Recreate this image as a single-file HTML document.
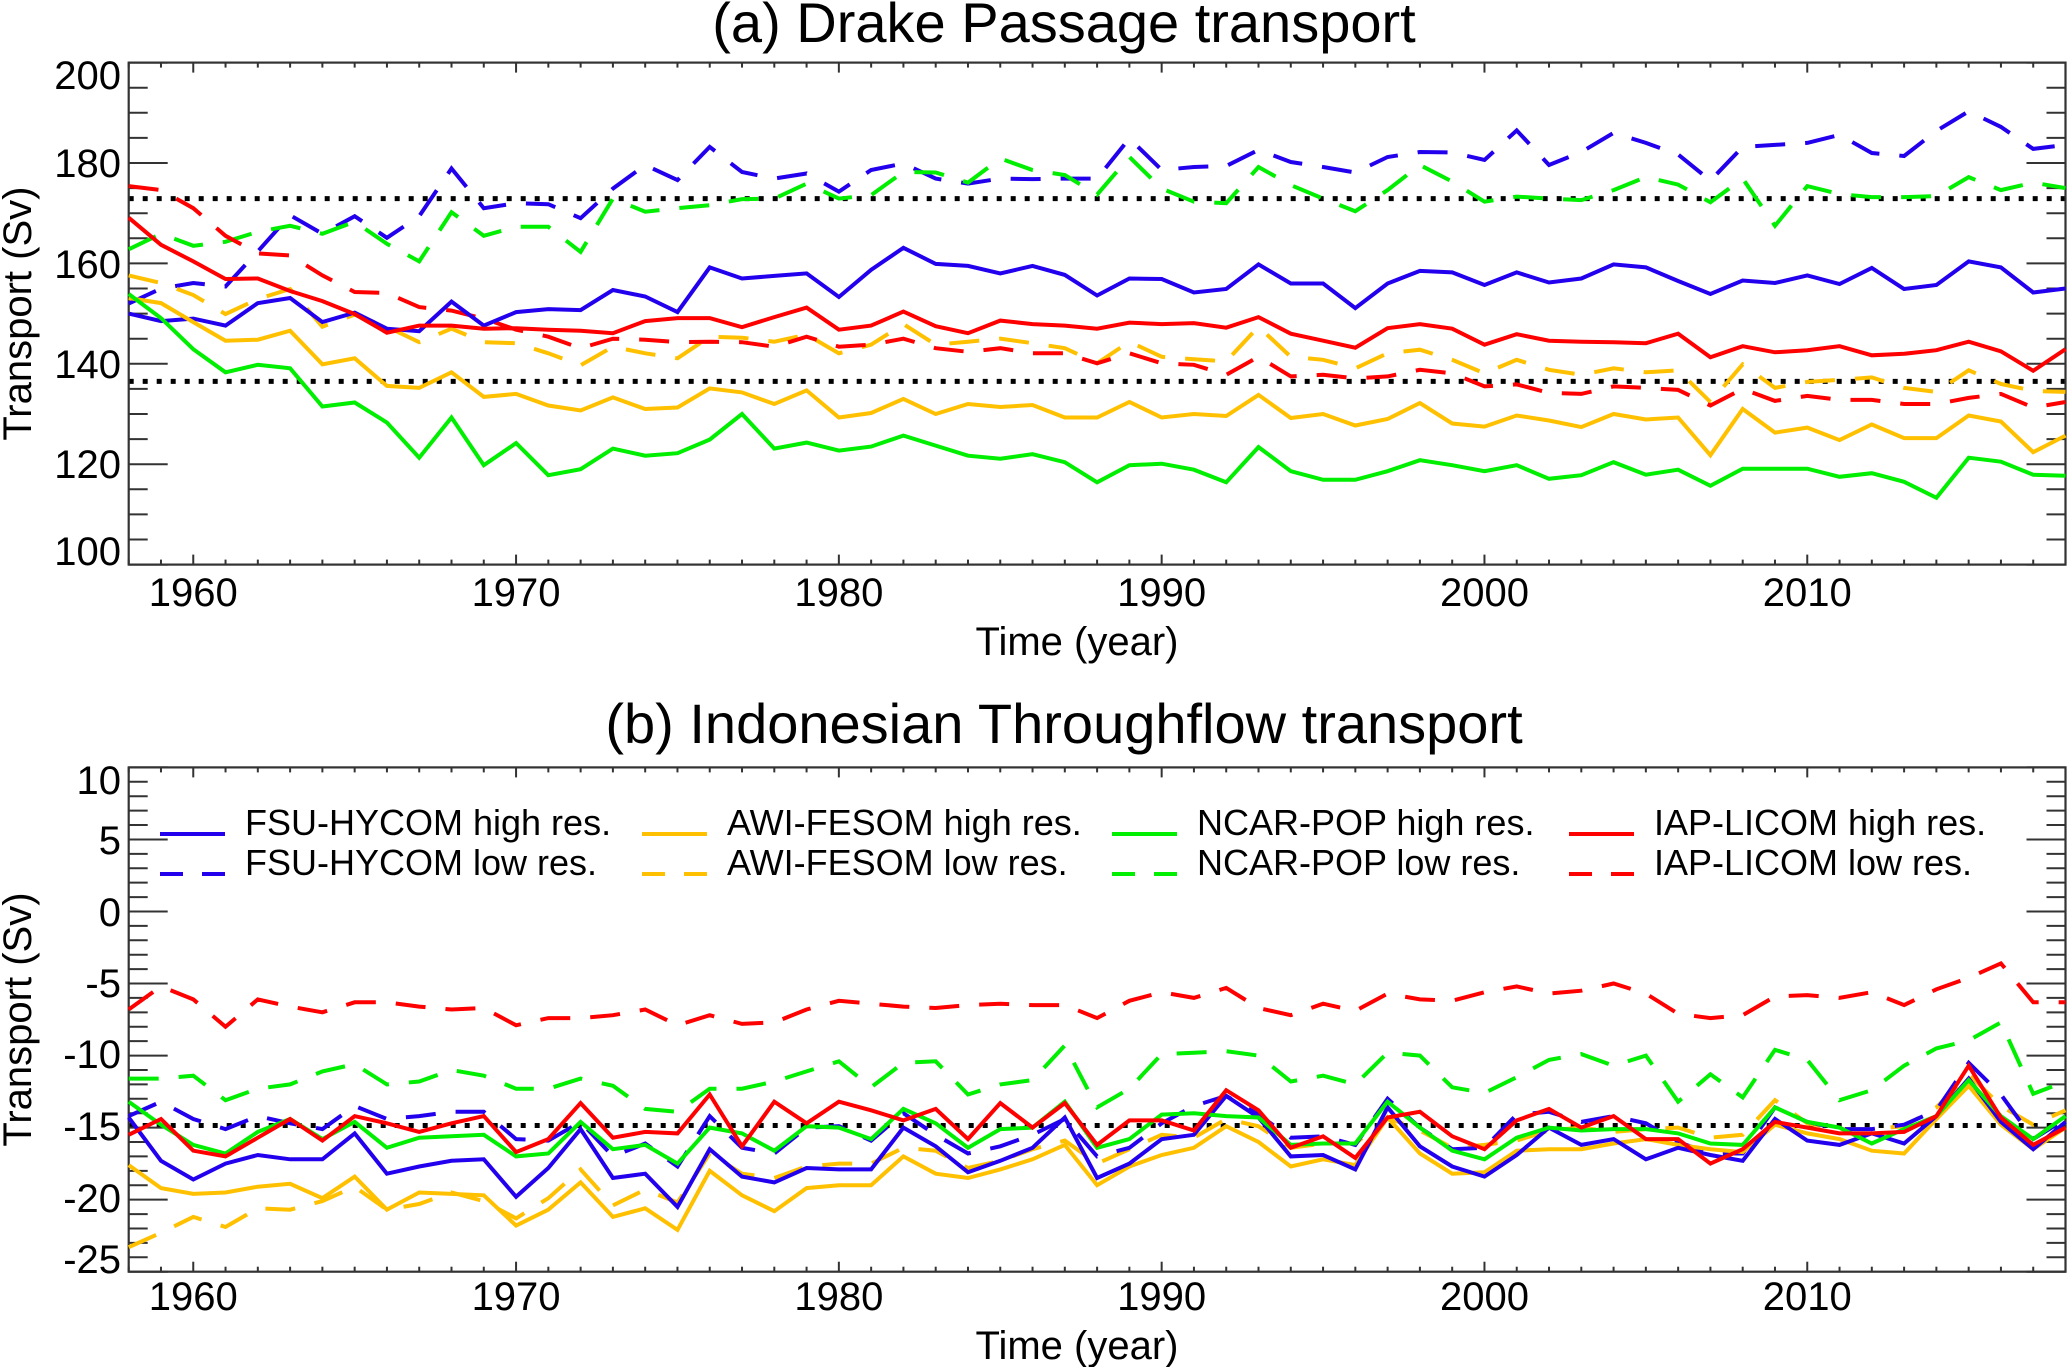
<!DOCTYPE html>
<html><head><meta charset="utf-8"><title>Drake Passage and Indonesian Throughflow transport</title>
<style>
html,body{margin:0;padding:0;background:#fff;}
svg{display:block;font-family:"Liberation Sans",Arial,sans-serif;}
</style></head>
<body>
<svg id="chart" width="2067" height="1367" viewBox="0 0 2067 1367" xmlns="http://www.w3.org/2000/svg">
<rect x="0" y="0" width="2067" height="1367" fill="#fff"/>
<g id="panelA"></g>
<g id="panelB"></g>
</svg>
<script>
// ---- data (years 1958..2018) ----
const years = [];
for (let y = 1958; y <= 2018; y++) years.push(y);
const xDecadeLabels = [1960, 1970, 1980, 1990, 2000, 2010];

const dpFsuHi = [150,148.5,149,147.6,152.1,153.1,148.3,150.2,147,146.5,152.4,147.6,
150.3,150.9,150.7,154.7,153.4,150.3,159.2,157,157.5,158,153.3,158.7,163.1,159.9,159.5,158,159.5,157.7,
153.6,157,156.9,154.2,154.9,159.8,156,156,151.1,156,158.5,158.2,155.7,158.2,156.2,157,
159.8,159.2,156.5,153.9,156.6,156.1,157.6,155.9,159.1,154.9,155.7,160.4,159.2,154.2,155];
const dpFsuLo = [152,155,156.1,155.4,162.4,169.6,165.9,169.4,165.1,169.4,178.9,171,
172,171.8,169,174.9,179.6,176.6,183.2,178.2,176.9,177.9,174.3,178.6,179.9,176.9,175.9,176.9,176.8,176.9,
176.9,184.9,178.6,179.2,179.4,182.6,180.2,179.2,178.1,181.2,182.2,182.1,180.6,186.5,179.6,182.2,
186,184,181.7,176.5,183.2,183.6,184,185.6,182,181.4,186.4,190.3,187.2,182.8,183.6];
const dpAwiHi = [153.1,152.1,148.3,144.6,144.8,146.6,139.9,141.1,135.6,135.2,138.3,133.4,
134,131.7,130.7,133.3,131,131.3,135.1,134.3,132,134.7,129.3,130.2,133,130,132,131.4,131.8,129.3,
129.3,132.4,129.3,130,129.6,133.8,129.2,130,127.7,129,132.2,128.1,127.5,129.7,128.7,127.4,
130,128.9,129.3,121.8,131,126.3,127.3,124.8,127.9,125.2,125.2,129.7,128.5,122.4,125.7];
const dpAwiLo = [157.6,156.1,153.7,149.9,152.9,154.9,147.4,149.8,147.4,144.3,147,144.3,
144.1,142.1,139.7,143.4,142.1,141.1,145.4,145.2,144.4,145.8,142.1,143.8,147.9,143.8,144.4,145,144.1,143.1,
140.1,144.4,141.4,140.9,140.5,147.4,141.4,140.8,139.1,142.1,142.8,140.8,138.1,140.8,138.8,137.8,
139.1,138.3,138.7,132.4,139.9,135.2,136.4,136.8,137.3,135.2,134.4,138.7,136,134.6,134.4];
const dpNcarHi = [153.9,149.1,142.9,138.3,139.8,139.1,131.5,132.3,128.3,121.3,129.3,119.8,
124.2,117.8,119,123.1,121.7,122.2,124.9,130,123.1,124.3,122.7,123.5,125.7,123.7,121.7,121.1,122,120.4,
116.4,119.8,120.1,118.9,116.4,123.4,118.6,116.9,116.9,118.6,120.8,119.8,118.6,119.8,117.1,117.8,
120.4,117.9,118.9,115.7,119.1,119.1,119.1,117.5,118.2,116.5,113.3,121.3,120.5,117.9,117.7];
const dpNcarLo = [162.8,165.9,163.5,164.3,166.3,167.5,165.9,168.3,163.9,160.4,170.2,165.5,
167.3,167.3,162.3,172.9,170.3,171,171.6,172.8,172.9,175.9,172.9,173.6,178.2,178.1,176.1,180.9,178.6,177.6,
173.7,181.2,174.9,172.3,172,179.2,175.6,172.9,170.4,174.6,179.6,176.3,172.3,173.3,172.9,172.6,
174.6,177.2,175.7,172.2,176.9,167.5,175.4,173.8,173.2,173.2,173.4,177.2,174.6,176.1,175];
const dpLicomHi = [169.1,163.7,160.4,156.9,157,154.5,152.5,149.9,146.2,147.6,147.6,147,
147.1,146.8,146.6,146.1,148.5,149.1,149.1,147.3,149.3,151.2,146.8,147.6,150.4,147.5,146.1,148.6,147.9,147.6,
147,148.2,147.9,148.1,147.2,149.3,146,144.6,143.2,147.1,147.9,147,143.8,145.9,144.6,144.4,
144.3,144.1,146,141.3,143.5,142.3,142.7,143.5,141.7,142,142.7,144.4,142.5,138.6,142.9];
const dpLicomLo = [175.4,174.6,171,165.5,162,161.6,157.6,154.3,154.1,151.3,150.6,149,
146.8,145.4,143.1,145,144.8,144.3,144.4,144.3,143.4,145.4,143.4,143.8,145,143.1,142.4,143.1,142.1,142.1,
140.1,142.1,140.1,139.8,137.8,141.4,137.5,137.8,137.1,137.5,138.8,138.1,135.5,135.9,134.2,134,
135.5,135.2,134.8,131.7,135,132.6,133.6,132.8,132.8,132,132,133.2,134,131.3,132.4];
const dpRefLines = [172.9, 136.5];
const dpTickLabels = [200, 180, 160, 140, 120, 100];

const itFsuHi = [-14.3,-17.3,-18.6,-17.5,-16.9,-17.2,-17.2,-15.4,-18.2,-17.7,-17.3,-17.2,
-19.8,-17.8,-15.1,-18.5,-18.2,-20.5,-16.5,-18.4,-18.8,-17.8,-17.9,-17.9,-15,-16.3,-18.1,-17.3,-16.4,-14.3,
-18.5,-17.5,-15.8,-15.5,-12.8,-14.3,-17,-16.9,-17.9,-13.6,-16.3,-17.7,-18.4,-16.9,-15,-16.2,
-15.8,-17.2,-16.4,-16.9,-17.3,-14.4,-15.9,-16.2,-15.4,-16.1,-14.2,-11.6,-14.6,-16.5,-14.6];
const itFsuLo = [-14.2,-13.2,-14.4,-15.1,-14.2,-14.7,-15.1,-13.5,-14.4,-14.2,-13.9,-13.9,
-15.8,-15.9,-14.6,-17,-16.1,-17.7,-14.2,-16.4,-16.8,-15,-14.9,-15.9,-14,-15.5,-16.8,-16.3,-15.5,-14.4,
-17,-16.4,-14.7,-13.5,-12.8,-14.1,-15.7,-15.6,-16.2,-13,-15,-16.5,-16.4,-14.1,-13.9,-14.6,
-14.2,-14.7,-16,-16.8,-16.8,-13.6,-14.6,-15.1,-15.1,-14.8,-13.8,-10.5,-12.7,-15.8,-14.4];
const itAwiHi = [-17.6,-19.2,-19.6,-19.5,-19.1,-18.9,-19.9,-18.4,-20.7,-19.5,-19.6,-19.7,
-21.8,-20.7,-18.8,-21.2,-20.6,-22.1,-18,-19.7,-20.8,-19.2,-19,-19,-17,-18.2,-18.5,-17.9,-17.2,-16.2,
-19,-17.7,-16.9,-16.4,-14.9,-16,-17.7,-17.2,-17.6,-14.3,-16.8,-18.2,-18.1,-16.6,-16.5,-16.5,
-16.1,-15.8,-16.2,-16.5,-16.7,-14.8,-15.4,-15.8,-16.6,-16.8,-14.4,-12.1,-14.8,-16.5,-15];
const itAwiLo = [-23.3,-22.3,-21.2,-21.9,-20.6,-20.7,-20.1,-19.1,-20.7,-20.3,-19.5,-20.1,
-21.3,-19.9,-17.9,-20.4,-19.3,-20.2,-16.8,-18.2,-18.5,-17.7,-17.5,-17.5,-16.4,-16.6,-17.8,-17.3,-16.5,-15.9,
-17.5,-16.5,-15.5,-15.7,-14.4,-14.9,-16.4,-16.1,-16.1,-14.3,-15.2,-16.4,-16.2,-15.9,-15.2,-15,
-15.3,-15.1,-15,-15.7,-15.5,-13.1,-14.7,-15.1,-15.1,-14.9,-13.6,-11.3,-13.5,-14.8,-13.8];
const itNcarHi = [-13.2,-14.8,-16.2,-16.8,-15.3,-14.4,-15.8,-14.6,-16.4,-15.7,-15.6,-15.5,
-17,-16.8,-14.6,-16.5,-16.2,-17.5,-15,-15.4,-16.6,-14.9,-15,-15.8,-13.7,-14.7,-16.4,-15.1,-15,-13.2,
-16.4,-15.8,-14.1,-14,-14.2,-14.3,-16.2,-16.1,-16.1,-13.2,-15,-16.6,-17.2,-15.7,-15,-15.2,
-15.1,-15.1,-15.4,-16.1,-16.2,-13.6,-14.6,-15,-16.1,-15.1,-14.2,-11.7,-14.2,-15.8,-14.2];
const itNcarLo = [-11.6,-11.6,-11.4,-13.1,-12.3,-12,-11.1,-10.6,-12,-11.8,-11,-11.4,
-12.3,-12.3,-11.6,-12.1,-13.7,-13.9,-12.3,-12.3,-11.8,-11.1,-10.4,-12.2,-10.5,-10.4,-12.7,-12,-11.7,-9.3,
-13.6,-12.3,-9.9,-9.8,-9.7,-10,-11.8,-11.4,-12,-9.8,-10,-12.2,-12.6,-11.5,-10.3,-9.9,
-10.7,-10,-13.2,-11.3,-12.9,-9.6,-10.3,-13.1,-12.4,-10.7,-9.5,-8.95,-7.7,-12.65,-11.8];
const itLicomHi = [-15.5,-14.4,-16.6,-17,-15.7,-14.4,-15.9,-14.2,-14.7,-15.3,-14.7,-14.2,
-16.7,-15.8,-13.3,-15.7,-15.3,-15.4,-12.7,-16.3,-13.2,-14.7,-13.2,-13.8,-14.5,-13.7,-15.8,-13.3,-15,-13.3,
-16.2,-14.5,-14.5,-15.2,-12.4,-13.8,-16.4,-15.6,-17.1,-14.3,-13.9,-15.6,-16.5,-14.5,-13.7,-15,
-14.2,-15.8,-15.8,-17.5,-16.5,-14.6,-15,-15.4,-15.4,-15.3,-14.2,-10.7,-14.3,-16.2,-15];
const itLicomLo = [-6.8,-5.2,-6.1,-8,-6.1,-6.6,-7,-6.3,-6.3,-6.6,-6.8,-6.7,
-7.9,-7.4,-7.4,-7.2,-6.8,-7.9,-7.2,-7.8,-7.7,-6.8,-6.2,-6.4,-6.6,-6.7,-6.5,-6.4,-6.5,-6.5,
-7.4,-6.2,-5.6,-6,-5.3,-6.7,-7.2,-6.4,-6.9,-5.7,-6.1,-6.2,-5.6,-5.2,-5.7,-5.5,
-5,-5.7,-7.1,-7.4,-7.2,-5.9,-5.8,-6,-5.6,-6.5,-5.4,-4.6,-3.6,-6.3,-6.3];
const itRefLines = [-14.85];
const itTickLabels = [10, 5, 0, -5, -10, -15, -20, -25];

const legendLabels = ["FSU-HYCOM", "AWI-FESOM", "NCAR-POP", "IAP-LICOM"];

// ---- layout ----
const NS = "http://www.w3.org/2000/svg";
const COL = {blue:"#2200ee", yellow:"#ffc000", green:"#00ee00", red:"#ff0000"};
const X0 = 128.7, X1 = 2065.5, YR0 = 1958, YR1 = 2018;
function xScale(yr){ return X0 + (yr - YR0) * (X1 - X0) / (YR1 - YR0); }
const PA = {top:62.6, bottom:564.6, vmin:100, vmax:200};
const PB = {top:767.4, bottom:1271.7, vmin:-25, vmax:10};
function yScaleA(v){ return PA.top + (PA.vmax - v) * (PA.bottom - PA.top) / (PA.vmax - PA.vmin); }
function yScaleB(v){ return PB.top + (PB.vmax - v) * (PB.bottom - PB.top) / (PB.vmax - PB.vmin); }

function mk(tag, attrs, parent){
  const e = document.createElementNS(NS, tag);
  for (const k in attrs) e.setAttribute(k, attrs[k]);
  parent.appendChild(e);
  return e;
}
function txt(parent, s, x, y, size, anchor){
  const t = mk("text", {x:x, y:y, "font-size":size, "text-anchor":anchor||"middle", fill:"#000"}, parent);
  t.textContent = s;
  return t;
}

function drawSeries(g, vals, ys, color, dashed, name){
  let d = "";
  vals.forEach((v, i) => { d += (i ? "L" : "M") + xScale(years[i]).toFixed(1) + "," + ys(v).toFixed(1); });
  const p = mk("path", {d:d, fill:"none", stroke:color, "stroke-width":4, "stroke-linejoin":"miter"}, g);
  if (dashed) p.setAttribute("stroke-dasharray", "30 20");
  
  
}

function drawAxes(g, P, ys, minorStep, majorStep, tickLabels, labelYs, refLines, yearLabelBase, timeBase, title, titleBase){
  refLines.forEach(v => {
    const l = mk("line", {x1:X0, x2:X1, y1:ys(v), y2:ys(v), stroke:"#000", "stroke-width":5, "stroke-dasharray":"5 9"}, g);
    
    
  });
  for (let v = P.vmin; v <= P.vmax + 1e-6; v += minorStep) {
    const major = Math.abs(v / majorStep - Math.round(v / majorStep)) < 1e-6;
    const len = major ? 39 : 19;
    const y = ys(v);
    mk("line", {x1:X0, x2:X0 + len, y1:y, y2:y, stroke:"#333", "stroke-width":2}, g);
    mk("line", {x1:X1 - len, x2:X1, y1:y, y2:y, stroke:"#333", "stroke-width":2}, g);
  }
  years.forEach(yr => {
    const major = yr % 10 === 0;
    const len = major ? 10 : 5;
    const x = xScale(yr);
    mk("line", {x1:x, x2:x, y1:P.bottom, y2:P.bottom - len, stroke:"#333", "stroke-width":2}, g);
    mk("line", {x1:x, x2:x, y1:P.top, y2:P.top + len, stroke:"#333", "stroke-width":2}, g);
  });
  const f = mk("rect", {x:X0, y:P.top, width:X1 - X0, height:P.bottom - P.top, fill:"none", stroke:"#333", "stroke-width":2.2}, g);
  
  
  tickLabels.forEach((v, i) => {
    const t = txt(g, String(v), 121, labelYs[i] + 14, 40, "end");
    
    
  });
  xDecadeLabels.forEach(yr => {
    const t = txt(g, String(yr), xScale(yr), yearLabelBase, 40, "middle");
    
    
  });
  const tx = txt(g, "Time (year)", 1077, timeBase, 40, "middle");
  
  
  const cy = (P.top + P.bottom) / 2;
  const ty = txt(g, "Transport (Sv)", 0, 0, 40, "middle");
  ty.setAttribute("transform", "translate(31," + cy + ") rotate(-90)");
  
  
  const tt = txt(g, title, 1064, titleBase, 56, "middle");
  
  
}

// ---- panel A ----
const gA = document.getElementById("panelA");
drawAxes(gA, PA, yScaleA, 5, 20, dpTickLabels, [75,163,264,364,464,551], dpRefLines, 606, 655, "(a) Drake Passage transport", 42);
drawSeries(gA, dpFsuLo, yScaleA, COL.blue, true, "drake-fsu-hycom-low-line");
drawSeries(gA, dpNcarLo, yScaleA, COL.green, true, "drake-ncar-pop-low-line");
drawSeries(gA, dpAwiLo, yScaleA, COL.yellow, true, "drake-awi-fesom-low-line");
drawSeries(gA, dpLicomLo, yScaleA, COL.red, true, "drake-iap-licom-low-line");
drawSeries(gA, dpFsuHi, yScaleA, COL.blue, false, "drake-fsu-hycom-high-line");
drawSeries(gA, dpAwiHi, yScaleA, COL.yellow, false, "drake-awi-fesom-high-line");
drawSeries(gA, dpNcarHi, yScaleA, COL.green, false, "drake-ncar-pop-high-line");
drawSeries(gA, dpLicomHi, yScaleA, COL.red, false, "drake-iap-licom-high-line");

// ---- panel B ----
const gB = document.getElementById("panelB");
drawAxes(gB, PB, yScaleB, 1, 5, itTickLabels, [780,840,912,983,1054,1126,1198,1259], itRefLines, 1310, 1359, "(b) Indonesian Throughflow transport", 743);
drawSeries(gB, itLicomLo, yScaleB, COL.red, true, "itf-iap-licom-low-line");
drawSeries(gB, itNcarLo, yScaleB, COL.green, true, "itf-ncar-pop-low-line");
drawSeries(gB, itAwiLo, yScaleB, COL.yellow, true, "itf-awi-fesom-low-line");
drawSeries(gB, itFsuLo, yScaleB, COL.blue, true, "itf-fsu-hycom-low-line");
drawSeries(gB, itAwiHi, yScaleB, COL.yellow, false, "itf-awi-fesom-high-line");
drawSeries(gB, itFsuHi, yScaleB, COL.blue, false, "itf-fsu-hycom-high-line");
drawSeries(gB, itNcarHi, yScaleB, COL.green, false, "itf-ncar-pop-high-line");
drawSeries(gB, itLicomHi, yScaleB, COL.red, false, "itf-iap-licom-high-line");

// ---- legend ----
const legendColors = [COL.blue, COL.yellow, COL.green, COL.red];
const legendX = [160, 642, 1112, 1569];
const gL = mk("g", {}, gB);


legendLabels.forEach((lab, i) => {
  const x = legendX[i];
  const ls = mk("line", {x1:x, x2:x + 65, y1:834, y2:834, stroke:legendColors[i], "stroke-width":4}, gL);
  
  
  const ld = mk("line", {x1:x, x2:x + 65, y1:874, y2:874, stroke:legendColors[i], "stroke-width":4, "stroke-dasharray":"23 19"}, gL);
  
  
  const t1 = txt(gL, lab + " high res.", x + 85, 835, 36, "start");
  
  
  const t2 = txt(gL, lab + " low res.", x + 85, 875, 36, "start");
  
  
});
</script>
</body></html>
